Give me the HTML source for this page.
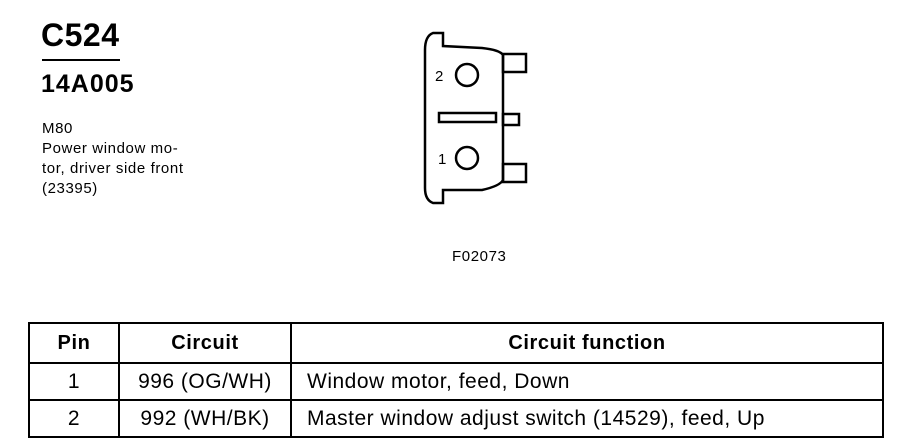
<!DOCTYPE html>
<html><head><style>
body{margin:0;width:920px;height:448px;background:#fff;position:relative;font-family:"Liberation Sans",Arial,sans-serif;color:#000;overflow:hidden}
.a{position:absolute;white-space:nowrap}
table{position:absolute;left:28px;top:322px;border-collapse:collapse;font-size:21px;letter-spacing:0.5px}
td{border:2px solid #000;height:35px;padding:0;text-align:center}
th{border:2px solid #000;height:36px;font-size:20px;letter-spacing:0.6px}
</style></head><body>
<div class="a" style="left:41px;top:17px;font-size:32px;font-weight:bold;letter-spacing:0.5px">C524</div>
<div class="a" style="left:42px;top:59px;width:78px;border-top:2px solid #000"></div>
<div class="a" style="left:41px;top:70px;font-size:25px;font-weight:bold;letter-spacing:1px">14A005</div>
<div class="a" style="left:42px;top:119px;font-size:15px;line-height:20px;letter-spacing:0.6px">M80<br>Power window mo-<br>tor, driver side front<br>(23395)</div>
<div class="a" style="left:452px;top:248px;font-size:15px;letter-spacing:0.6px">F02073</div>
<svg class="a" style="left:0;top:0" width="920" height="300">
<g fill="none" stroke="#000" stroke-width="2.5">
<path d="M443 33 L433 33 Q425 36 425 50 L425 188 Q425 200 433 203 L443 203 L443 190 L482 190 Q500 186 503 180 L503 55 Q500 50 482 48 L443 46 Z"/>
<rect x="503" y="54" width="23" height="18"/>
<rect x="503" y="114" width="16" height="11"/>
<rect x="503" y="164" width="23" height="18"/>
<circle cx="467" cy="75" r="11"/>
<circle cx="467" cy="158" r="11"/>
<rect x="439" y="113" width="57" height="9"/>
</g>
<text x="435" y="81" font-size="15" font-family="Liberation Sans">2</text>
<text x="438" y="164" font-size="15" font-family="Liberation Sans">1</text>
</svg>
<table>
<tr><th style="width:86px">Pin</th><th style="width:168px">Circuit</th><th style="width:588px">Circuit function</th></tr>
<tr><td>1</td><td>996 (OG/WH)</td><td style="text-align:left;padding-left:15px">Window motor, feed, Down</td></tr>
<tr><td>2</td><td>992 (WH/BK)</td><td style="text-align:left;padding-left:15px">Master window adjust switch (14529), feed, Up</td></tr>
</table>
</body></html>
